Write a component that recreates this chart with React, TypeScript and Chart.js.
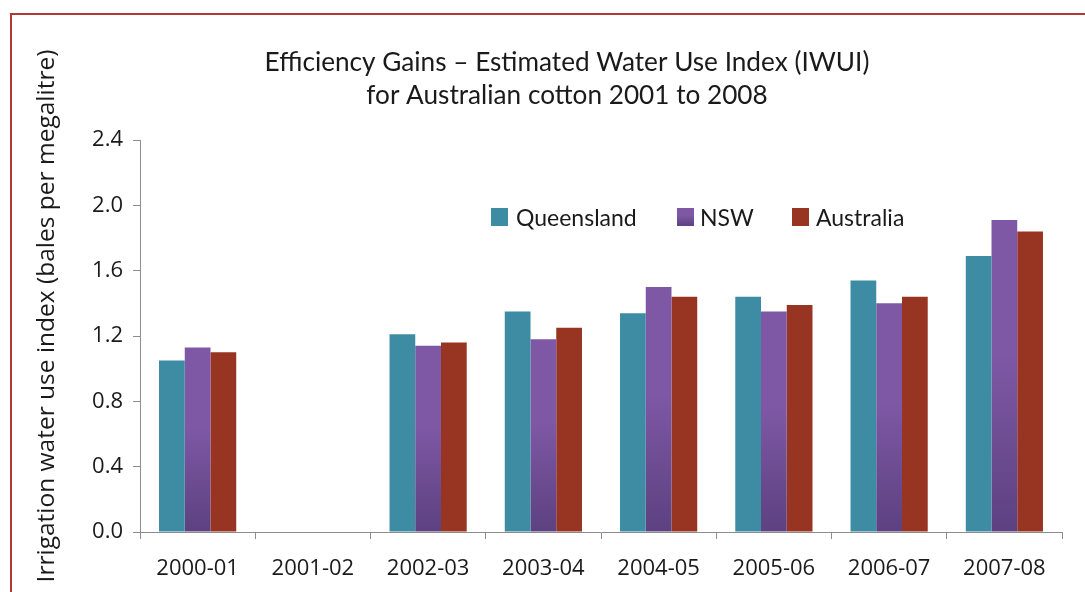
import React, { useEffect, useRef } from "react";
import { Chart, registerables } from "chart.js";

Chart.register(...registerables);

const categories = ["2000-01", "2001-02", "2002-03", "2003-04", "2004-05", "2005-06", "2006-07", "2007-08"];
const queensland = [1.05, null, 1.21, 1.35, 1.34, 1.44, 1.54, 1.69];
const nsw = [1.13, null, 1.14, 1.18, 1.5, 1.35, 1.4, 1.91];
const australia = [1.1, null, 1.16, 1.25, 1.44, 1.39, 1.44, 1.84];
const seriesNames = ["Queensland", "NSW", "Australia"];
const titleLines = ["Efficiency Gains \u2013 Estimated Water Use Index (IWUI)", "for Australian cotton 2001 to 2008"];
const yTitle = "Irrigation water use index (bales per megalitre)";

const Q_COLOR = "#3d8ca4";
const NSW_TOP = "#7e58a5";
const NSW_BOTTOM = "#5d4180";
const AUS_COLOR = "#983522";
const AXIS_COLOR = "#8c8c8c";
const TEXT_COLOR = "#1a1a1a";

function nswGradient(ctx: any) {
  const chart = ctx.chart;
  const { chartArea, scales } = chart;
  if (!chartArea || !scales || !scales.y || ctx.type !== "data") return NSW_TOP;
  const v = ctx.raw;
  if (v == null) return NSW_TOP;
  const y0 = scales.y.getPixelForValue(0);
  const y1 = scales.y.getPixelForValue(v);
  if (!isFinite(y0) || !isFinite(y1) || y0 === y1) return NSW_TOP;
  const g = chart.ctx.createLinearGradient(0, y0, 0, y1);
  g.addColorStop(0, NSW_BOTTOM);
  g.addColorStop(0.57, NSW_TOP);
  g.addColorStop(1, NSW_TOP);
  return g;
}

const decorPlugin = {
  id: "decor",
  beforeDraw(chart: any) {
    const ctx = chart.ctx;
    ctx.save();
    ctx.fillStyle = "#ffffff";
    ctx.fillRect(0, 0, chart.width, chart.height);
    // frame
    ctx.strokeStyle = "#b03838";
    ctx.lineWidth = 2;
    ctx.beginPath();
    ctx.moveTo(11, chart.height + 5);
    ctx.lineTo(11, 14);
    ctx.lineTo(chart.width + 5, 14);
    ctx.stroke();
    ctx.restore();
  },
  afterDraw(chart: any) {
    const ctx = chart.ctx;
    ctx.save();
    // title
    ctx.fillStyle = TEXT_COLOR;
    ctx.textAlign = "center";
    ctx.textBaseline = "alphabetic";
    ctx.font = "100px Lato";
    const w = ctx.measureText(titleLines[0]).width;
    const size = (100 * 605) / w;
    ctx.font = `${size.toFixed(2)}px Lato`;
    ctx.fillText(titleLines[0], 567, 71);
    ctx.fillText(titleLines[1], 567, 104);

    // y axis title
    ctx.save();
    ctx.translate(47, 316);
    ctx.rotate(-Math.PI / 2);
    ctx.font = '24.5px "Open Sans"';
    ctx.textBaseline = "middle";
    ctx.textAlign = "center";
    ctx.fillText(yTitle, 0, 0);
    ctx.restore();

    // legend
    const items = [
      { x: 491, tx: 516, color: Q_COLOR, grad: false },
      { x: 677, tx: 700, color: NSW_TOP, grad: true },
      { x: 792, tx: 816, color: AUS_COLOR, grad: false },
    ];
    ctx.font = "23px Lato";
    ctx.textAlign = "left";
    ctx.textBaseline = "alphabetic";
    items.forEach((it, i) => {
      if (it.grad) {
        const g = ctx.createLinearGradient(0, 208, 0, 226);
        g.addColorStop(0, NSW_TOP);
        g.addColorStop(0.4, NSW_TOP);
        g.addColorStop(1, NSW_BOTTOM);
        ctx.fillStyle = g;
      } else {
        ctx.fillStyle = it.color;
      }
      ctx.fillRect(it.x, 208, 17, 18);
      ctx.fillStyle = TEXT_COLOR;
      ctx.fillText(seriesNames[i], it.tx, 226);
    });
    ctx.restore();
  },
};

export default function App() {
  const ref = useRef<HTMLCanvasElement | null>(null);
  useEffect(() => {
    document.body.style.margin = "0";
    const canvas = ref.current;
    if (!canvas) return;
    const chart = new Chart(canvas, {
      type: "bar",
      data: {
        labels: categories,
        datasets: [
          { label: seriesNames[0], data: queensland, backgroundColor: Q_COLOR },
          { label: seriesNames[1], data: nsw, backgroundColor: nswGradient as any },
          { label: seriesNames[2], data: australia, backgroundColor: AUS_COLOR },
        ],
      },
      options: {
        animation: false,
        responsive: false,
        devicePixelRatio: 1,
        layout: { padding: { top: 140, right: 23, bottom: 0, left: 0 } },
        datasets: { bar: { barPercentage: 1, categoryPercentage: 0.67 } },
        plugins: { legend: { display: false }, title: { display: false }, tooltip: { enabled: false } },
        scales: {
          x: {
            afterFit(scale: any) {
              scale.height = 60;
            },
            grid: { drawOnChartArea: false, drawTicks: true, tickLength: 7, color: AXIS_COLOR, offset: true },
            border: { display: true, color: AXIS_COLOR, width: 1 },
            ticks: { color: TEXT_COLOR, font: { family: '"Open Sans"', size: 22 }, padding: 17, maxRotation: 0, autoSkip: false },
          },
          y: {
            min: 0,
            max: 2.4,
            afterFit(scale: any) {
              scale.width = 140;
            },
            grid: { drawOnChartArea: false, drawTicks: true, tickLength: 7, color: AXIS_COLOR },
            border: { display: true, color: AXIS_COLOR, width: 1 },
            ticks: {
              stepSize: 0.4,
              color: TEXT_COLOR,
              font: { family: '"Open Sans"', size: 22 },
              padding: 10,
              callback: (v: any) => Number(v).toFixed(1),
            },
          },
        },
      },
      plugins: [decorPlugin],
    });
    return () => chart.destroy();
  }, []);
  return (
    <div style={{ position: "fixed", left: 0, top: 0, width: 1085, height: 592, overflow: "hidden" }}>
      <canvas ref={ref} width={1085} height={592} style={{ display: "block", width: 1085, height: 592 }} />
    </div>
  );
}
